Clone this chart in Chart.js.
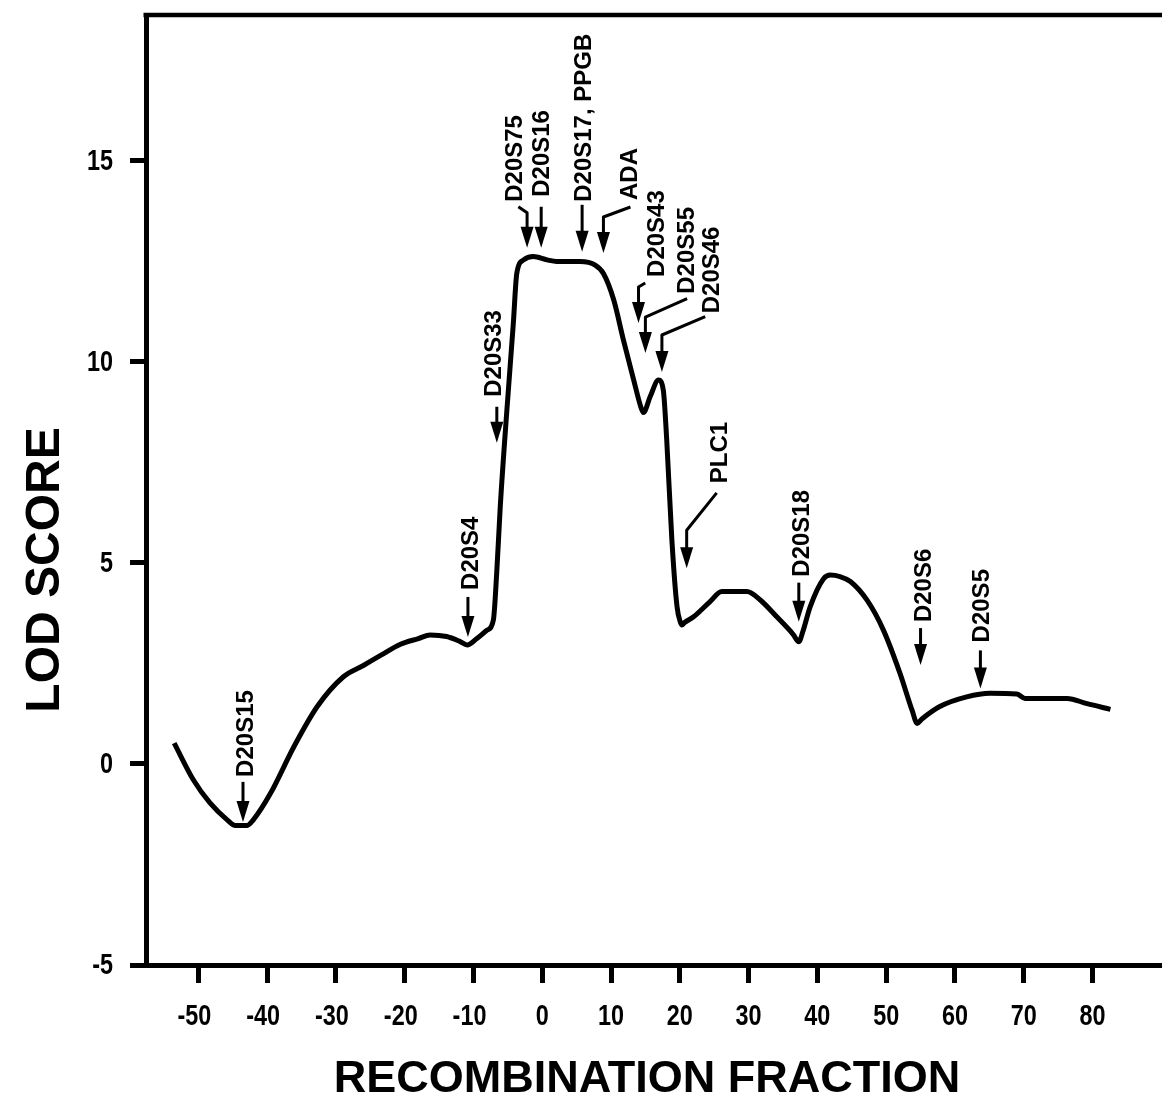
<!DOCTYPE html>
<html>
<head>
<meta charset="utf-8">
<script src="https://cdn.jsdelivr.net/npm/chart.js@4.4.1/dist/chart.umd.min.js"></script>
<style>
  html, body { margin: 0; padding: 0; background: #ffffff; }
  #wrap { width: 1162px; height: 1097px; position: relative; }
</style>
</head>
<body>
<div id="wrap"><canvas id="chartLod"></canvas></div>
<script>
// position along the map and LOD score
const positions = [
  -53.5, -50.7, -48.3, -45.8, -44.6, -42.9, -42.0, -39.5, -36.1, -32.7,
  -28.9, -26.0, -23.5, -20.6, -18.0, -16.3, -13.9, -12.0, -10.9, -9.5,
  -8.0, -7.1, -6.6, -6.1, -5.1, -4.2, -3.7, -2.7, -1.3, 0.7,
  2.1, 5.5, 7.7, 8.9, 10.4, 11.8, 13.3, 14.3, 14.7, 15.7,
  16.9, 17.6, 18.1, 18.85, 19.6, 20.1, 20.3, 20.7, 22.0, 24.4,
  26.1, 29.75, 31.7, 34.1, 36.5, 37.3, 37.9, 38.95, 40.9, 41.9,
  43.3, 44.8, 47.2, 49.6, 52.0, 53.8, 54.5, 55.2, 57.8, 61.7,
  65.1, 69.0, 70.2, 76.3, 79.2, 82.6
];
const lodScores = [
  0.52, -0.40, -0.97, -1.39, -1.53, -1.53, -1.39, -0.73, 0.43, 1.43,
  2.17, 2.45, 2.70, 2.98, 3.12, 3.21, 3.17, 3.05, 2.96, 3.12,
  3.33, 3.58, 4.8, 6.4, 8.89, 10.96, 12.20, 12.54, 12.62, 12.54,
  12.50, 12.50, 12.41, 12.20, 11.54, 10.55, 9.55, 8.90, 8.74, 9.14,
  9.55, 9.30, 8.06, 5.57, 3.91, 3.52, 3.46, 3.52, 3.66, 4.04,
  4.29, 4.29, 4.08, 3.66, 3.22, 3.04, 3.30, 3.91, 4.61, 4.70,
  4.66, 4.54, 4.08, 3.33, 2.26, 1.32, 1.01, 1.12, 1.43, 1.67,
  1.76, 1.74, 1.63, 1.63, 1.50, 1.36
];

const xTickValues = [-50, -40, -30, -20, -10, 0, 10, 20, 30, 40, 50, 60, 70, 80];
const yTickValues = [-5, 0, 5, 10, 15];

const markerNames = [
  "D20S15", "D20S4", "D20S33", "D20S75", "D20S16", "D20S17, PPGB", "ADA",
  "D20S43", "D20S55", "D20S46", "PLC1", "D20S18", "D20S6", "D20S5"
];
const markerPositions = [-43.5, -10.8, -6.6, -2.2, -0.15, 5.8, 8.9, 14.0, 15.0, 17.4, 21.0, 37.3, 55.0, 63.7];
const markerTipScores = [-1.44, 3.16, 7.99, 12.84, 12.84, 12.74, 12.71, 10.97, 10.22, 9.75, 4.87, 3.54, 2.46, 1.88];

// leader shape for each marker, in pixels (shaft height, bend end, label offset)
const markerLeaders = [
  { shaft: 40, ex: 0, ey: 0, tx: 2, gap: 5 },
  { shaft: 40, ex: 0, ey: 0, tx: 2, gap: 7 },
  { shaft: 36, ex: 0, ey: 0, tx: -3.5, gap: 10 },
  { shaft: 35, ex: -8.7, ey: -6, tx: -12.7, gap: 5 },
  { shaft: 41, ex: 0, ey: 0, tx: 0, gap: 10 },
  { shaft: 47, ex: 0, ey: 0, tx: 1.3, gap: 3 },
  { shaft: 36, ex: 27, ey: -10, tx: 25.7, gap: 7 },
  { shaft: 36, ex: 6.7, ey: -4, tx: 17.7, gap: 6 },
  { shaft: 36, ex: 41.7, ey: -18.4, tx: 41, gap: 5 },
  { shaft: 37, ex: 43.3, ey: -18.3, tx: 49.3, gap: 3.4 },
  { shaft: 38, ex: 30, ey: -37.3, tx: 32.3, gap: 9.7 },
  { shaft: 39, ex: 0, ey: 0, tx: 2.7, gap: 6 },
  { shaft: 37, ex: 0, ey: 0, tx: 3.3, gap: 6 },
  { shaft: 38, ex: 0, ey: 0, tx: 1, gap: 8 }
];

const boldFamily = '"Liberation Sans", Arial, Helvetica, sans-serif';

// condensed bold text, like the tick numbers of the original figure
function drawNarrow(ctx, text, x, y, align) {
  ctx.save();
  ctx.translate(x, y);
  ctx.scale(0.78, 1);
  ctx.textAlign = align;
  ctx.textBaseline = "middle";
  ctx.fillText(text, 0, 0);
  ctx.restore();
}

const lodDecor = {
  id: "lodDecor",
  afterDatasetsDraw(chart) {
    const { ctx, chartArea, scales } = chart;
    ctx.save();
    ctx.strokeStyle = "#000";
    ctx.fillStyle = "#000";

    // top frame line
    ctx.lineWidth = 4.5;
    ctx.beginPath();
    ctx.moveTo(chartArea.left - 2.5, chartArea.top);
    ctx.lineTo(chart.width, chartArea.top);
    ctx.stroke();

    // tick numbers
    ctx.font = "bold 30px " + boldFamily;
    xTickValues.forEach((v) => {
      const px = scales.x.getPixelForValue(v);
      const half = ctx.measureText(String(Math.abs(v))).width * 0.78 / 2;
      drawNarrow(ctx, String(v), px + half, 1017, "right");
    });
    yTickValues.forEach((v) => {
      const py = scales.y.getPixelForValue(v);
      drawNarrow(ctx, String(v), 113, py + 1, "right");
    });

    // marker arrows
    ctx.font = "bold 24px " + boldFamily;
    ctx.lineWidth = 3;
    ctx.lineJoin = "round";
    markerNames.forEach((name, i) => {
      const l = markerLeaders[i];
      const px = scales.x.getPixelForValue(markerPositions[i]);
      const py = scales.y.getPixelForValue(markerTipScores[i]);
      const head = 21;
      const top = py - l.shaft;

      ctx.beginPath();
      ctx.moveTo(px + l.ex, top + l.ey);
      ctx.lineTo(px, top);
      ctx.lineTo(px, py - head + 2);
      ctx.stroke();

      ctx.beginPath();
      ctx.moveTo(px, py);
      ctx.lineTo(px - 6.5, py - head);
      ctx.lineTo(px + 6.5, py - head);
      ctx.closePath();
      ctx.fill();

      ctx.save();
      ctx.translate(px + l.tx, top + l.ey - l.gap);
      ctx.rotate(-Math.PI / 2);
      ctx.textAlign = "left";
      ctx.textBaseline = "middle";
      ctx.fillText(name, 0, 1);
      ctx.restore();
    });

    // axis titles
    ctx.font = "bold 48px " + boldFamily;
    ctx.save();
    ctx.translate(44, 570);
    ctx.rotate(-Math.PI / 2);
    ctx.textAlign = "center";
    ctx.textBaseline = "middle";
    ctx.fillText("LOD SCORE", 0, 2);
    ctx.restore();

    ctx.font = "bold 45px " + boldFamily;
    ctx.textAlign = "center";
    ctx.textBaseline = "middle";
    ctx.fillText("RECOMBINATION FRACTION", 647, 1080);

    ctx.restore();
  }
};

function renderChartLod() {
  const canvas = document.getElementById("chartLod");

  canvas._chart = new Chart(canvas, {
    type: "line",
    data: {
      datasets: [
        {
          data: positions.map((x, i) => ({ x: x, y: lodScores[i] })),
          borderColor: "#000000",
          borderWidth: 5,
          pointRadius: 0,
          fill: false,
          cubicInterpolationMode: "monotone",
          borderJoinStyle: "round",
          borderCapStyle: "butt",
        },
      ],
    },
    options: {
      responsive: true,
      maintainAspectRatio: false,
      animation: false,
      layout: { padding: { top: 15, left: 0, right: 0, bottom: 0 } },
      plugins: {
        legend: { display: false },
        tooltip: { enabled: false },
      },
      scales: {
        x: {
          type: "linear",
          min: -57.6,
          max: 90.1,
          afterBuildTicks: (s) => { s.ticks = xTickValues.map((v) => ({ value: v })); },
          afterFit: (s) => { s.height = 132; s.paddingLeft = 0; s.paddingRight = 0; },
          grid: { drawOnChartArea: false, drawTicks: true, tickLength: 18, tickWidth: 5, tickColor: "#000" },
          border: { display: true, width: 5, color: "#000" },
          ticks: { display: false },
        },
        y: {
          type: "linear",
          min: -5,
          max: 18.63,
          afterBuildTicks: (s) => { s.ticks = yTickValues.map((v) => ({ value: v })); },
          afterFit: (s) => { s.width = 146; s.paddingTop = 0; s.paddingBottom = 0; },
          grid: { drawOnChartArea: false, drawTicks: true, tickLength: 16, tickWidth: 5, tickColor: "#000" },
          border: { display: true, width: 5, color: "#000" },
          ticks: { display: false },
        },
      },
    },
    plugins: [lodDecor],
  });
}

renderChartLod();
</script>
</body>
</html>
